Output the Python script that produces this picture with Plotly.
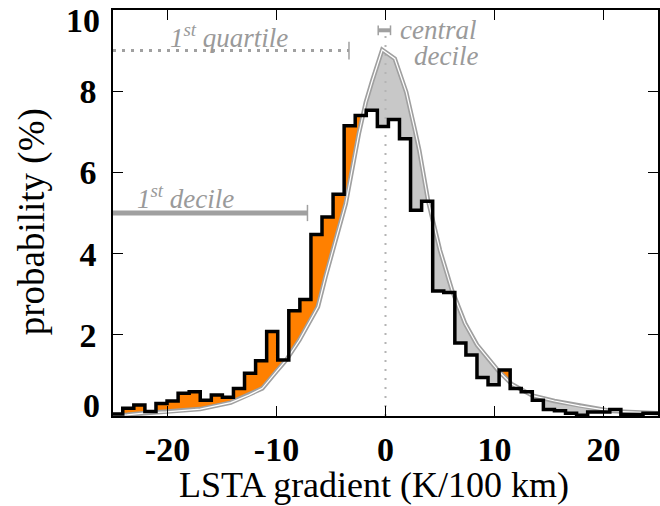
import numpy as np
import plotly.graph_objects as go

# ---------------- data ----------------
# histogram (black step line): bins of equal width starting at hist_left
hist_left = -25.12
hist_width = 1.0155
hist_vals = [0.05, 0.19, 0.27, 0.11, 0.31, 0.37, 0.56, 0.60, 0.39, 0.52,
             0.46, 0.68, 1.05, 1.36, 2.08, 1.38, 2.59, 2.87, 4.47, 4.90,
             5.46, 7.15, 7.40, 7.53, 7.13, 7.30, 6.83, 5.07, 5.29, 3.08,
             3.04, 1.80, 1.50, 0.95, 0.77, 1.13, 0.68, 0.60, 0.39, 0.16,
             0.13, 0.07, 0.02, 0.10, 0.10, 0.16, 0.04, 0.04, 0.07, 0.07]

# reference distribution (grey curve)
curve_x = [-25, -23.7, -22.2, -20.1, -17.0, -14.2, -12.5, -11.3, -10.0, -9.1,
           -7.9, -6.2, -5.5, -4.6, -3.65, -2.45, -1.8, -1.2, -0.3, 0.85,
           1.9, 2.7, 3.1, 3.9, 5.0, 6.1, 7.3, 8.4, 10.3, 11.6,
           13.5, 15.5, 17.8, 20.8, 25]
curve_y = [0.02, 0.03, 0.07, 0.10, 0.17, 0.33, 0.52, 0.68, 1.10, 1.38,
           1.87, 2.69, 3.43, 4.33, 5.23, 6.95, 7.73, 8.27, 9.02, 8.80,
           7.98, 7.04, 6.54, 5.31, 4.08, 3.10, 2.28, 1.75, 1.13, 0.78,
           0.50, 0.37, 0.25, 0.12, 0.07]

# interval markers
quartile_end = -3.35
quartile_level = 9.0
decile_end = -7.16
decile_level = 5.0
central_lo, central_hi = -0.67, 0.46
central_level = 9.5

x_ticks = [-20, -10, 0, 10, 20]
y_ticks = [0, 2, 4, 6, 8, 10]

# ---------------- derived ----------------
edges = hist_left + hist_width * np.arange(len(hist_vals) + 1)
hv = np.array(hist_vals)
xs = np.linspace(-25, 25, 10001)
idx = np.searchsorted(edges, xs, side="right") - 1
inside = (idx >= 0) & (idx < len(hv))
h = np.where(inside, hv[np.clip(idx, 0, len(hv) - 1)], 0.0)
c = np.interp(xs, curve_x, curve_y)
upper = np.maximum(h, c)
lower = np.minimum(h, c)

step_x = [edges[0]] + [e for e in edges[1:-1] for _ in (0, 1)] + [edges[-1]]
step_y = [v for v in hist_vals for _ in (0, 1)]

GREY_TXT = "#9a9a9a"
GREY_LN = "#a0a0a0"
fig = go.Figure()

# orange fill (sample above reference)
fig.add_trace(go.Scatter(x=xs, y=c, mode="lines", line=dict(width=0), hoverinfo="skip", showlegend=False))
fig.add_trace(go.Scatter(x=xs, y=upper, mode="lines", line=dict(width=0), fill="tonexty",
                         fillcolor="#FF8000", hoverinfo="skip", showlegend=False))
# grey fill (reference above sample)
fig.add_trace(go.Scatter(x=xs, y=lower, mode="lines", line=dict(width=0), hoverinfo="skip", showlegend=False))
fig.add_trace(go.Scatter(x=xs, y=c, mode="lines", line=dict(width=0), fill="tonexty",
                         fillcolor="#C8C8C8", hoverinfo="skip", showlegend=False))

# vertical dotted line at zero
fig.add_trace(go.Scatter(x=[0, 0], y=[0, central_level], mode="lines",
                         line=dict(color="#b4b4b4", width=2, dash="2px,7px"), showlegend=False))

# reference curve: grey with white core
fig.add_trace(go.Scatter(x=curve_x, y=curve_y, mode="lines",
                         line=dict(color=GREY_LN, width=4.5), showlegend=False))
fig.add_trace(go.Scatter(x=curve_x, y=curve_y, mode="lines",
                         line=dict(color="#ffffff", width=1.2), showlegend=False))

# histogram
fig.add_trace(go.Scatter(x=step_x, y=step_y, mode="lines",
                         line=dict(color="black", width=3.5), showlegend=False))

# 1st quartile (dotted)
fig.add_trace(go.Scatter(x=[-25, quartile_end], y=[quartile_level] * 2, mode="lines",
                         line=dict(color=GREY_LN, width=3, dash="3px,6px"), showlegend=False))
fig.add_trace(go.Scatter(x=[quartile_end] * 2, y=[quartile_level - 0.22, quartile_level + 0.22], mode="lines",
                         line=dict(color=GREY_LN, width=1.5), showlegend=False))
# 1st decile (thick)
fig.add_trace(go.Scatter(x=[-25, decile_end], y=[decile_level] * 2, mode="lines",
                         line=dict(color=GREY_LN, width=5), showlegend=False))
fig.add_trace(go.Scatter(x=[decile_end] * 2, y=[decile_level - 0.2, decile_level + 0.2], mode="lines",
                         line=dict(color=GREY_LN, width=1.5), showlegend=False))
# central decile
fig.add_trace(go.Scatter(x=[central_lo, central_hi], y=[central_level] * 2, mode="lines",
                         line=dict(color=GREY_LN, width=4), showlegend=False))
for xe in (central_lo, central_hi):
    fig.add_trace(go.Scatter(x=[xe, xe], y=[central_level - 0.12, central_level + 0.12], mode="lines",
                             line=dict(color=GREY_LN, width=1.5), showlegend=False))

ann_font = dict(family="Liberation Serif", size=27, color=GREY_TXT, style="italic")
fig.add_annotation(x=-20.0, y=9.37, xref="x", yref="y", text="1<sup>st</sup> quartile",
                   showarrow=False, xanchor="left", yanchor="middle", font=ann_font)
fig.add_annotation(x=-22.98, y=5.39, xref="x", yref="y", text="1<sup>st</sup> decile",
                   showarrow=False, xanchor="left", yanchor="middle", font=ann_font)
fig.add_annotation(x=8.52, y=9.5, xref="x", yref="y", text="central", height=22,
                   showarrow=False, xanchor="right", yanchor="middle", font=ann_font)
fig.add_annotation(x=8.7, y=8.87, xref="x", yref="y", text="decile", height=22,
                   showarrow=False, xanchor="right", yanchor="middle", font=ann_font)

# axis titles
title_font = dict(family="Liberation Serif", size=36, color="black")
fig.add_annotation(x=0.479, y=-0.17, xref="paper", yref="paper", text="LSTA gradient (K/100 km)",
                   showarrow=False, xanchor="center", yanchor="middle", font=title_font)
fig.add_annotation(x=-0.148, y=0.478, xref="paper", yref="paper", text="probability (%)",
                   textangle=-90, showarrow=False, xanchor="center", yanchor="middle",
                   font=dict(family="Liberation Serif", size=37, color="black"))

tick_font = dict(family="Liberation Serif", size=34, color="black", weight="bold")

# end labels of the y axis are nudged inward (as in the reference)
y_ticktext = ["" if v in (y_ticks[0], y_ticks[-1]) else str(v) for v in y_ticks]
fig.add_annotation(x=-0.021, y=0.973, xref="paper", yref="paper", text=str(y_ticks[-1]),
                   showarrow=False, xanchor="right", yanchor="middle", font=tick_font)
fig.add_annotation(x=-0.021, y=0.027, xref="paper", yref="paper", text=str(y_ticks[0]),
                   showarrow=False, xanchor="right", yanchor="middle", font=tick_font)

fig.update_xaxes(range=[-25, 25], tickvals=x_ticks, ticktext=[str(v) for v in x_ticks],
                 ticks="inside", ticklen=10, tickwidth=1.2, tickcolor="black",
                 showline=True, linecolor="black", linewidth=1.5, mirror="ticks",
                 showgrid=False, zeroline=False, tickfont=tick_font, ticklabelstandoff=2)
fig.update_yaxes(range=[0, 10], tickvals=y_ticks, ticktext=y_ticktext,
                 ticks="inside", ticklen=10, tickwidth=1.2, tickcolor="black",
                 showline=True, linecolor="black", linewidth=1.5, mirror="ticks",
                 showgrid=False, zeroline=False, tickfont=tick_font, ticklabelstandoff=8)

fig.update_layout(width=660, height=506, margin=dict(l=113, r=0, t=10, b=90),
                  plot_bgcolor="white", paper_bgcolor="white", showlegend=False)

fig.write_html("out.html")
